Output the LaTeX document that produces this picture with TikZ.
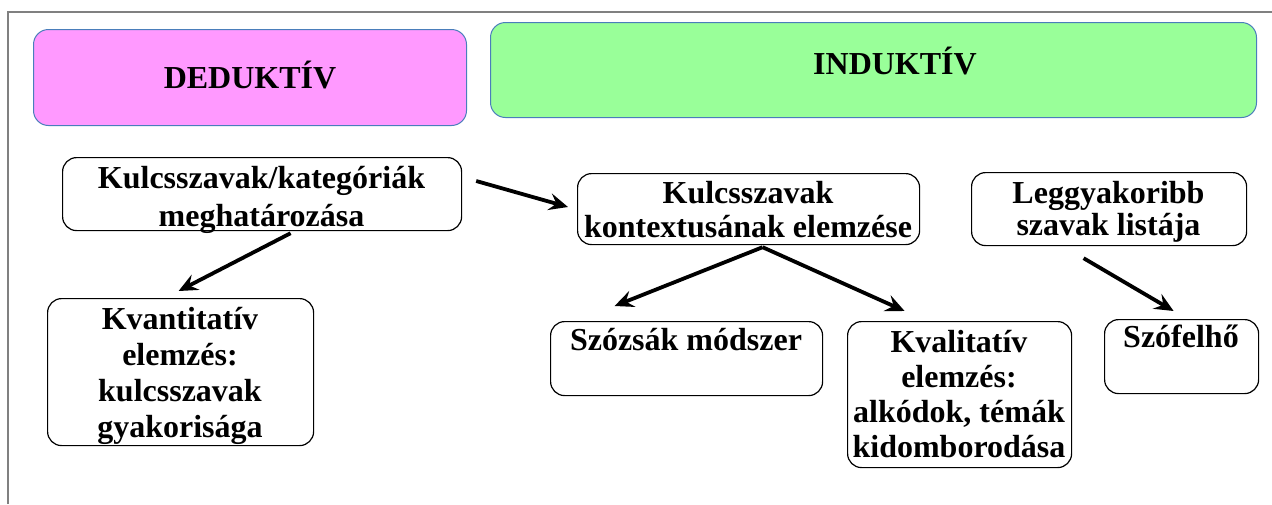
\documentclass[tikz,border=0pt]{standalone}
\usepackage{fontspec}
\setmainfont{Liberation Serif}
\usetikzlibrary{arrows.meta}
\definecolor{pinkfill}{HTML}{FF99FF}
\definecolor{greenfill}{HTML}{99FF99}
\definecolor{hdborder}{HTML}{4A7EBB}
\definecolor{framegray}{HTML}{808080}
\newcommand{\topstrut}{\rule{0pt}{30pt}}
\begin{document}
\begin{tikzpicture}[x=1pt,y=-1pt,
  hdbox/.style={draw=hdborder, line width=1pt, rounded corners=15pt, inner sep=0pt, anchor=north west},
  box/.style={draw=black, line width=1.2pt, rounded corners=14pt, inner sep=0pt, anchor=north west},
  txt/.style={font=\fontsize{32}{36}\selectfont\bfseries, align=center, inner sep=0pt, anchor=north},
  arr/.style={line width=3.8pt, -{Stealth[length=19pt,width=17pt,inset=7pt]}}]
\useasboundingbox (0,0) rectangle (1272,504);
% frame
\draw[framegray, line width=2pt] (8,504) -- (8,12) -- (1272,12);
% headings
\node[hdbox, fill=pinkfill, minimum width=433pt, minimum height=96pt] (ded) at (33,29) {};
\node[txt] (dedt) at (250,58) {\topstrut DEDUKTÍV};
\node[hdbox, fill=greenfill, minimum width=766pt, minimum height=95pt] (ind) at (490,22) {};
\node[txt] (indt) at (895,44) {\topstrut INDUKTÍV};
% boxes
\node[box, minimum width=399pt, minimum height=73pt] (kk) at (62,157) {};
\node[txt] (kkt) at (261.5,158) {\topstrut Kulcsszavak/kategóriák\\[2pt] meghatározása};
\node[box, minimum width=342pt, minimum height=71pt] (ctx) at (577,173) {};
\node[txt] (ctxt) at (748,173) {\topstrut Kulcsszavak\\[-2pt] kontextusának elemzése};
\node[box, minimum width=275pt, minimum height=73pt] (leg) at (971,172) {};
\node[txt] (legt) at (1108.5,173) {\topstrut Leggyakoribb\\[-4pt] szavak listája};
\node[box, minimum width=266pt, minimum height=147pt] (kvant) at (47,298) {};
\node[txt] (kvantt) at (180,299) {\topstrut Kvantitatív\\ elemzés:\\ kulcsszavak\\ gyakorisága};
\node[box, minimum width=272pt, minimum height=74pt] (szozsak) at (550,321) {};
\node[txt] (szozsakt) at (686,320) {\topstrut Szózsák módszer};
\node[box, minimum width=224pt, minimum height=146pt] (kval) at (847,321) {};
\node[txt] (kvalt) at (959,322) {\topstrut Kvalitatív\\[-1pt] elemzés:\\[-1pt] alkódok, témák\\[-1pt] kidomborodása};
\node[box, minimum width=154pt, minimum height=74pt] (szof) at (1104,319) {};
\node[txt] (szoft) at (1181,317) {\topstrut Szófelhő};
% arrows
\draw[arr] ([shift={(14,24)}]kk.north east) -- ([shift={(-9,34)}]ctx.north west);
\draw[arr] ([shift={(28.5,2)}]kk.south) -- ([shift={(-2,-7)}]kvant.north);
\draw[arr] ([shift={(14,2)}]ctx.south) -- ([shift={(-72,-15)}]szozsak.north);
\draw[arr] ([shift={(14,2)}]ctx.south) -- ([shift={(-55,-10)}]kval.north);
\draw[arr] ([shift={(-25.5,12)}]leg.south) -- ([shift={(-8,-8)}]szof.north);
\end{tikzpicture}
\end{document}
